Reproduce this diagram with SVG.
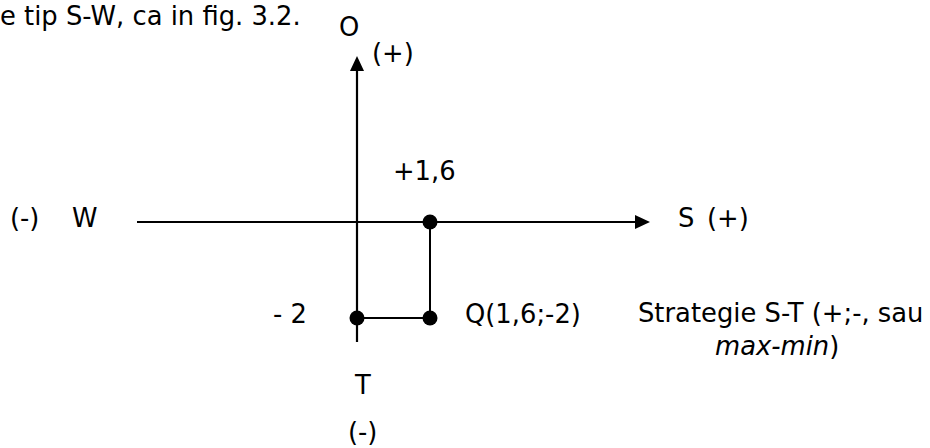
<svg xmlns="http://www.w3.org/2000/svg" width="930" height="448" viewBox="0 0 930 448">
  <style>
    text { font-family: "DejaVu Sans", Verdana, sans-serif; font-size: 25.8px; fill: #000; }
    .it { font-style: italic; }
    .ax { stroke: #000; stroke-width: 2.2; fill: none; }
    .seg { stroke: #000; stroke-width: 2; fill: none; }
    .dot { fill: #000; }
  </style>
  <defs>
    <marker id="arr" viewBox="0 0 15 14" refX="0" refY="7" markerWidth="15" markerHeight="14" markerUnits="userSpaceOnUse" orient="auto">
      <path d="M0,0 L15,7 L0,14 Z" fill="#000"/>
    </marker>
  </defs>
  <rect width="930" height="448" fill="#fff"/>

  <g id="caption">
    <text x="0" y="25">e tip S-W, ca in fig. 3.2.</text>
  </g>

  <g id="connectors">
    <line class="ax" x1="357" y1="342" x2="357" y2="71" marker-end="url(#arr)"/>
    <line class="ax" x1="137" y1="222" x2="635" y2="222" marker-end="url(#arr)"/>
    <line class="seg" x1="430" y1="222" x2="430" y2="318"/>
    <line class="seg" x1="357" y1="318" x2="430" y2="318"/>
  </g>

  <g id="axis-O">
    <text x="339" y="36">O</text>
    <text x="372" y="62">(+)</text>
  </g>
  <g id="axis-W">
    <text x="10" y="227">(-)</text>
    <text x="72" y="227">W</text>
  </g>
  <g id="axis-S">
    <text x="678" y="227">S</text>
    <text x="707" y="227">(+)</text>
  </g>
  <g id="axis-T">
    <text x="355" y="394">T</text>
    <text x="348" y="441">(-)</text>
  </g>
  <g id="point-s">
    <circle class="dot" cx="430" cy="222" r="7.5"/>
    <text x="393" y="180">+1,6</text>
  </g>
  <g id="point-t">
    <circle class="dot" cx="357" cy="318" r="7.5"/>
    <text x="273" y="323">- 2</text>
  </g>
  <g id="point-Q">
    <circle class="dot" cx="430" cy="318" r="7.5"/>
    <text x="465" y="323">Q(1,6;-2)</text>
  </g>
  <g id="strategy-label">
    <text x="638" y="322">Strategie S-T (+;-, sau</text>
    <text x="715" y="355"><tspan class="it">max-min</tspan>)</text>
  </g>
</svg>
